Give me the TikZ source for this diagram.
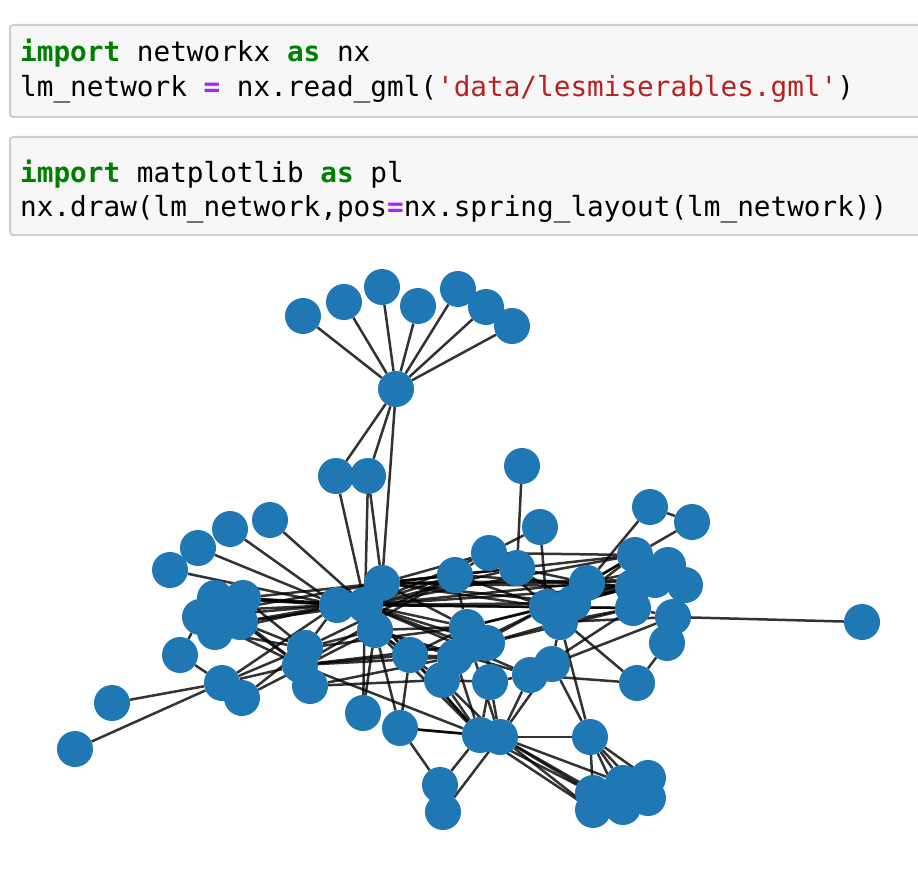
\documentclass[tikz,border=0pt]{standalone}
\usepackage{fontspec}
\setmonofont{DejaVu Sans Mono}
\usepackage{tikz}
\usetikzlibrary{backgrounds}
\newcommand{\dotSize}{36pt}
\newcommand{\kw}[1]{\textcolor{kwGreen}{\textbf{#1}}}
\definecolor{dotBlue}{HTML}{1F77B4}
\definecolor{cellFill}{HTML}{F7F7F7}
\definecolor{cellLine}{HTML}{CFCFCF}
\definecolor{kwGreen}{HTML}{008000}
\definecolor{opPurple}{HTML}{AA22FF}
\definecolor{strRed}{HTML}{BA2121}

\begin{document}
\begin{tikzpicture}[x=1pt,y=-1pt,
  dot/.style={circle,fill=dotBlue,inner sep=0pt,minimum size=\dotSize},
  link/.style={draw=black,opacity=0.8,line width=2.5pt},
  code/.style={anchor=base west,inner sep=0pt,font=\ttfamily\fontsize{27.7}{33}\selectfont}]
\useasboundingbox (0,0) rectangle (918,872);
% code cells
\fill[cellFill] (10,25) rectangle (918,117);
\draw[cellLine,line width=2pt,rounded corners=3pt] (918,25) -- (10,25) -- (10,117) -- (918,117);
\fill[cellFill] (10,137) rectangle (918,235);
\draw[cellLine,line width=2pt,rounded corners=3pt] (918,137) -- (10,137) -- (10,235) -- (918,235);
\node[code] (line1) at (20,62) {\kw{import} networkx \kw{as} nx};
\node[code] (line2) at (20,97) {lm\_network \textcolor{opPurple}{\textbf{=}} nx.read\_gml(\textcolor{strRed}{'data/lesmiserables.gml'})};
\node[code] (line3) at (20,182) {\kw{import} matplotlib \kw{as} pl};
\node[code] (line4) at (20,216) {nx.draw(lm\_network,pos\textcolor{opPurple}{\textbf{=}}nx.spring\_layout(lm\_network))};
% network
\foreach \n/\x/\y in {m0/396/389, m1/303/316, m2/344/302, m3/382/287, m4/418/306, m5/458/289, m6/486/307, m7/512/326, m8/336/476, m9/368/476,
  l1/270/520, l2/230/529, l3/198/548, l4/170/570, l5/215/598, l6/243/598, l7/200/617, l8/215/632, l9/240/622, l10/228/610,
  l11/180/655, l12/222/683, l13/242/698, l14/112/703, l15/75/749,
  v1/337/605, v2/382/583, v3/375/630, v4/365/605, p1/305/648, p2/300/665, p3/310/686,
  n1/410/655, n2/363/713, n3/400/728, c1/455/575, c2/489/553, c3/517/568, c4/540/527, c5/522/466,
  d1/467/627, d2/487/643, d3/455/657, d4/442/680, d5/490/682, d6/470/645, e1/530/675, e2/552/664,
  f1/547/607, f2/560/622, f3/573/603, f4/587/583,
  g1/650/507, g2/692/522, g3/635/555, g4/668/565, g5/685/585, g6/633/587, g7/633/608, g8/673/617, g9/667/643, g10/655/580,
  h1/862/622, h2/637/683, b1/480/735, b2/500/737, b3/590/737, b4/440/785, b5/443/812,
  k1/593/793, k2/593/810, k3/623/783, k4/623/807, k5/648/778, k6/648/798}
  \node[dot] (\n) at (\x,\y) {};
\begin{pgfonlayer}{background}
\foreach \a/\b in {m0/m1, m0/m2, m0/m3, m0/m4, m0/m5, m0/m6, m0/m7, m0/m8, m0/m9, m0/v2, m8/v4, m9/v4, m9/v2,
  l1/v4, l2/v1, l3/v1, l4/v1, l5/v1, l6/v1, l7/v1, l8/v1, l9/v1, l10/v1, l5/v4, l6/v4, l9/v4, l10/v2, l6/v2,
  l5/l6, l7/l8, l6/l9, l8/p1, l9/p1, l7/p2, l10/p2, l9/p2, l6/p1,
  l11/l7, l11/l12, l12/l14, l12/l15, l12/l13, l12/p1, l12/p2, l13/p1, l13/v3, l12/v1,
  p1/p2, p2/p3, p1/v1, p1/v3, p2/n1, p1/d1, p3/d3, p2/c1, p2/d3, p3/d4, p2/d2, p1/c1, p2/b1,
  n1/v4, n1/v3, n1/d1, n1/n3, n1/d3, n1/b1,
  v4/c1, v4/c2, v4/c3, v4/f1, v4/f3, v4/f4, v4/g3, v4/g6, v4/g7, v4/d1, v4/d2, v4/d6, v4/b1, v4/e1, v4/n2,
  v2/c1, v2/c2, v2/c3, v2/f1, v2/f4, v2/g3, v2/g6, v2/g10, v2/d1, v2/f3,
  v3/d1, v3/d3, v3/n2, v3/n3, v3/d4, v3/e1, v3/b1, v1/v2, v1/v3, v1/v4, v2/v4, v3/v4,
  c1/c2, c2/c3, c3/c5, c2/c4, c4/f1, c1/f1, c3/f3, c1/d1, c2/f1, c3/f4, c1/g6, c2/g3,
  d1/d2, d1/d3, d2/d5, d3/d4, d4/d5, d1/d6, d6/d2, d1/f1, d2/f2, d6/f1, d2/g7, d1/g6, d5/e1, e1/e2, e2/f2, d3/f1,
  d4/b1, d4/b2, d5/b1, d5/b2, d3/b1, d6/b2, e1/b2, e2/b2,
  f1/f2, f1/f3, f3/f4, f2/f3, f1/g3, f1/g6, f1/g7, f3/g3, f3/g6, f4/g1, f4/g3, f4/g4, f4/g6, f3/g10, f2/g7, f2/g8, f4/g10, f3/g4, f1/g10,
  g3/g4, g4/g5, g3/g6, g6/g7, g7/g8, g8/g9, g5/g8, g10/g4, g10/g5, g3/g10, g6/g10, g1/g2, g2/g3,
  f1/h2, g9/h2, e1/h2, g8/h1, e1/g7, e2/g8,
  b1/b2, b2/b3, n3/b1, n3/b2, n3/b4, b1/b4, b2/b5, b4/b5, b3/f2, b3/e2,
  b2/k1, b2/k2, b2/k3, b2/k4, b1/k1, b1/k2, b3/k1, b3/k3, b3/k4, b3/k5, b3/k6,
  k1/k2, k1/k3, k3/k5, k4/k6, k2/k4}
  \draw[link] (\a) -- (\b);
\end{pgfonlayer}
\end{tikzpicture}
\end{document}
